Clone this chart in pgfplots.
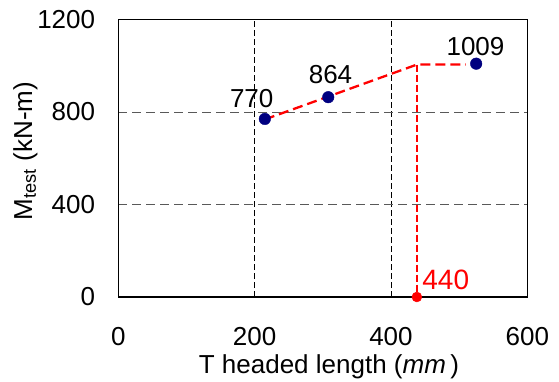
\documentclass[border=0pt]{standalone}
\usepackage{fontspec}
\setmainfont{Liberation Sans}
\usepackage{pgfplots}
\pgfplotsset{compat=1.18}
\definecolor{navy}{RGB}{0,0,128}
\begin{document}
\fontsize{26bp}{31bp}\selectfont
\begin{tikzpicture}
\useasboundingbox (-118.3bp,-85bp) rectangle (440.7bp,297bp);
\begin{axis}[
  at={(0,0)}, anchor=south west,
  scale only axis, width=409bp, height=277.5bp,
  xmin=0, xmax=600, ymin=0, ymax=1200,
  xtick={0,200,400,600}, ytick={0,400,800,1200},
  grid=major, major tick length=0,
  axis line style={line width=1.3bp},
  major x grid style={black, line width=0.8bp, dash pattern=on 6bp off 3bp},
  major y grid style={black!65, line width=0.8bp, dash pattern=on 9bp off 5bp},
  /pgf/number format/assume math mode=true,
  /pgf/number format/1000 sep={},
  xticklabel style={anchor=base, inner sep=0, yshift=-48.7bp},
  yticklabel style={anchor=east, inner sep=0, xshift=-23bp},
  xlabel={T headed length (\textit{mm}\,)},
  xlabel style={at={(axis description cs:0.515,-0.277)}, anchor=base, inner sep=0},
  ylabel={M\textsubscript{test} (kN-m)},
  ylabel style={at={(axis description cs:-0.227,0.526)}, anchor=center, inner sep=0},
  clip=false,
]
\addplot[only marks, mark=*, mark size=5.8bp, navy] coordinates {(215,770) (308,864) (525,1009)};
\addplot[red, line width=2.3bp, dash pattern=on 10bp off 5bp, no marks] coordinates {(215,768) (438,1005) (510,1005)};
\addplot[red, line width=1.5bp, dash pattern=on 7bp off 3bp, no marks] coordinates {(438,1005) (438,0)};
\addplot[only marks, red, mark=*, mark size=5bp] coordinates {(438,0)};
\node[inner sep=0] at (axis cs:195.7,860) {770};
\node[inner sep=0] at (axis cs:311.3,960) {864};
\node[inner sep=0] at (axis cs:524,1082) {1009};
\node[inner sep=0, red, font=\fontsize{28bp}{32bp}\selectfont] at (axis cs:480.4,74.8) {440};
\end{axis}
\end{tikzpicture}
\end{document}
